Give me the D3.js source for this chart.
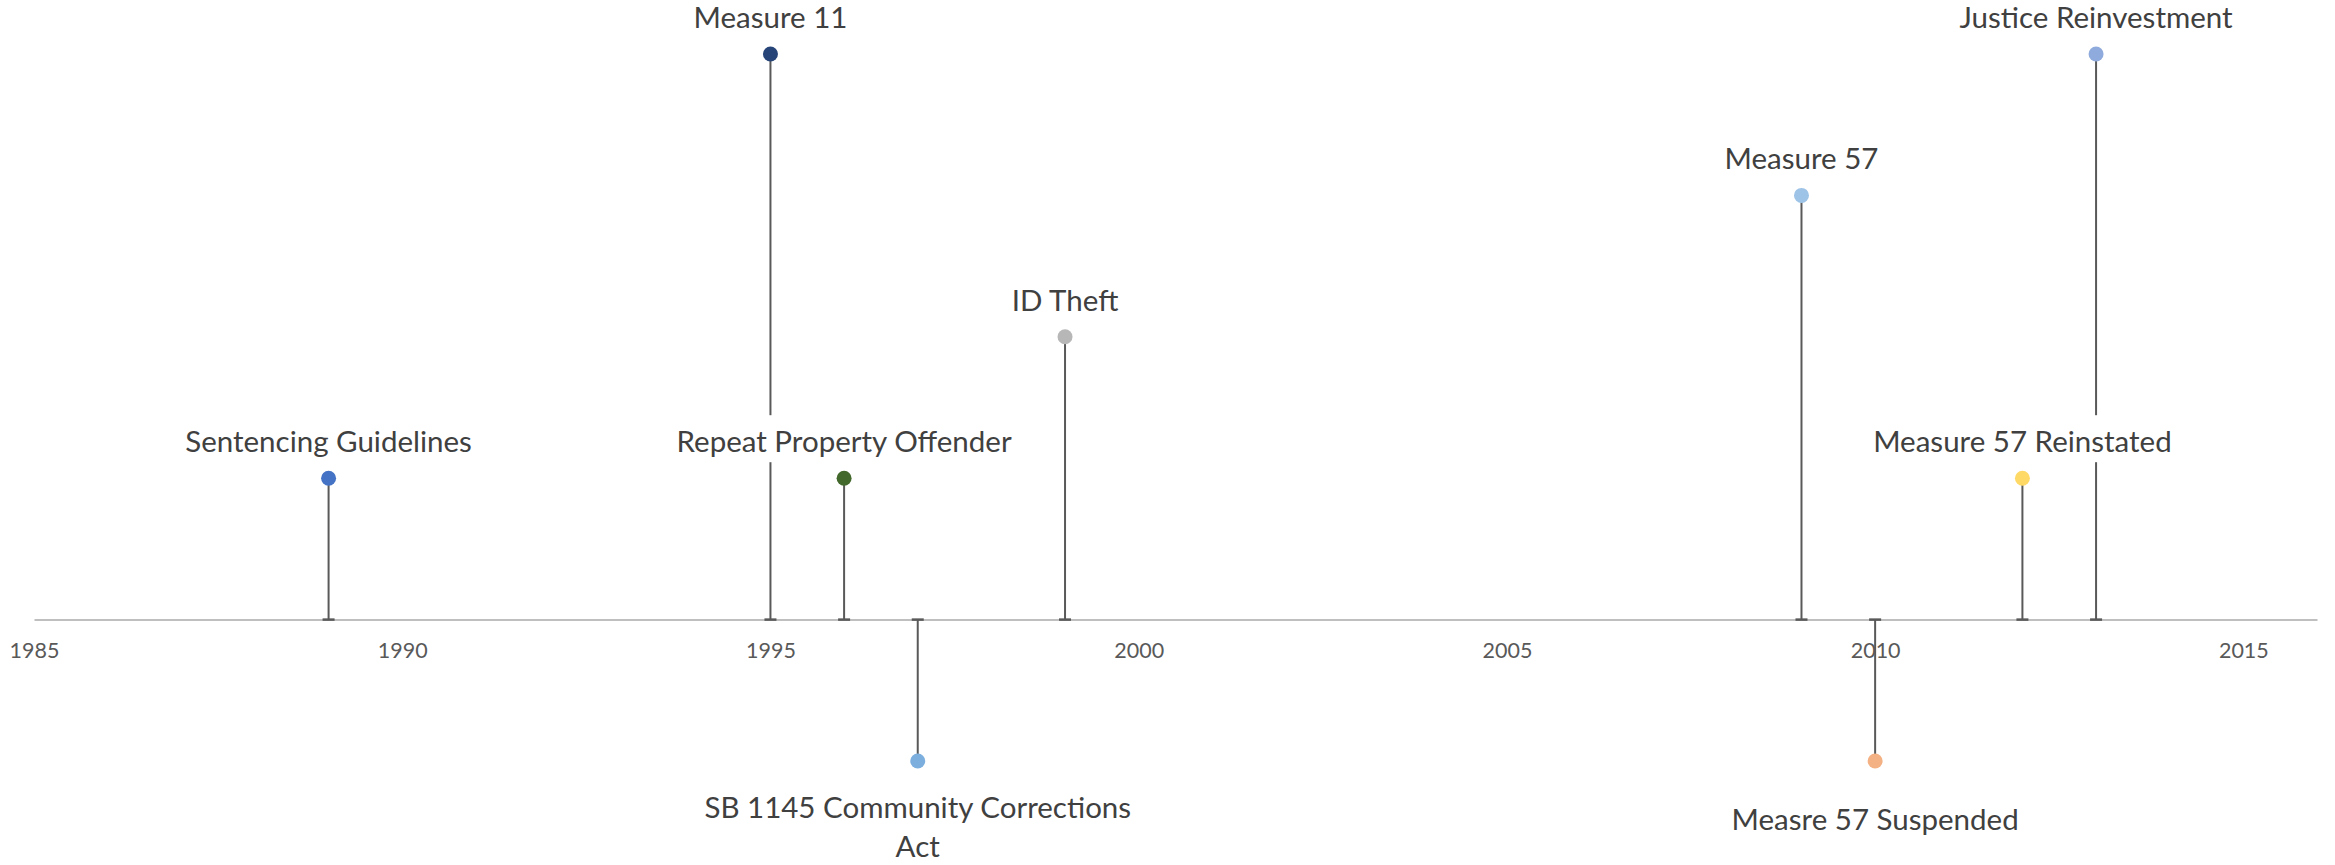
<!DOCTYPE html>
<html>
<head>
<meta charset="utf-8">
<script src="https://cdn.jsdelivr.net/npm/d3@7"></script>
<style>
  body { margin: 0; background: #fff; }
  svg { display: block; font-family: Lato, 'Open Sans', sans-serif; }
</style>
</head>
<body>
<div id="timeline"></div>
<script>
// Milestones: year, height level (negative = below the axis), label
const years = [1989, 1995, 1996, 1997, 1999, 2009, 2010, 2012, 2013];
const levels = [1, 4, 1, -1, 2, 3, -1, 1, 4];
const labels = [
  ['Sentencing Guidelines'],
  ['Measure 11'],
  ['Repeat Property Offender'],
  ['SB 1145 Community Corrections', 'Act'],
  ['ID Theft'],
  ['Measure 57'],
  ['Measre 57 Suspended'],
  ['Measure 57 Reinstated'],
  ['Justice Reinvestment']
];
const tickYears = [1985, 1990, 1995, 2000, 2005, 2010, 2015];

const dotColors = ['#4472c4', '#264478', '#43682b', '#7cafdd', '#b7b7b7',
                   '#9dc3e6', '#f4b183', '#ffd966', '#8faadc'];

const width = 2335, height = 865;

let svg = d3.select('#timeline')
            .append('svg')
            .attr('width', width)
            .attr('height', height);

let x = d3.scaleLinear()
          .domain([1985, 2016])
          .range([34, 2317]);

let y = d3.scaleLinear()
          .domain([-1, 4])
          .range([761, 54]);

let data = years.map((yr, i) => ({
  year: yr,
  level: levels[i],
  lines: labels[i],
  color: dotColors[i]
}));

// Axis along zero
let axis = svg.append('g')
              .attr('transform', `translate(0, ${y(0)})`)
              .call(d3.axisBottom(x)
                      .tickValues(tickYears)
                      .tickFormat(d3.format('d'))
                      .tickSize(0)
                      .tickSizeOuter(0)
                      .tickPadding(23));

axis.select('.domain')
    .attr('stroke', '#bfbfbf')
    .attr('stroke-width', 2);

axis.selectAll('text')
    .attr('fill', '#595959')
    .style('font-size', '21.5px')
    .style('font-family', 'Lato, sans-serif');

// Stems (drop lines to the axis with a cap)
let stems = svg.append('g');

stems.selectAll('line.stem')
     .data(data)
     .enter()
     .append('line')
     .attr('class', 'stem')
     .attr('x1', d => x(d.year))
     .attr('x2', d => x(d.year))
     .attr('y1', d => y(d.level))
     .attr('y2', y(0))
     .attr('stroke', '#595959')
     .attr('stroke-width', 2);

stems.selectAll('line.cap')
     .data(data)
     .enter()
     .append('line')
     .attr('class', 'cap')
     .attr('x1', d => x(d.year) - 6)
     .attr('x2', d => x(d.year) + 6)
     .attr('y1', y(0))
     .attr('y2', y(0))
     .attr('stroke', '#595959')
     .attr('stroke-width', 2.5);

// Markers
svg.append('g')
   .selectAll('circle')
   .data(data)
   .enter()
   .append('circle')
   .attr('cx', d => x(d.year))
   .attr('cy', d => y(d.level))
   .attr('r', 7.5)
   .attr('fill', d => d.color);

// Labels with white box behind them
let labelGroups = svg.append('g')
                     .selectAll('g')
                     .data(data)
                     .enter()
                     .append('g')
                     .attr('transform', d => {
                       let cy = y(d.level);
                       let base;
                       if (d.level > 0) {
                         base = cy - 26;
                       } else {
                         base = d.lines.length > 1 ? cy + 57 : cy + 69;
                       }
                       return `translate(${x(d.year)}, ${base})`;
                     });

labelGroups.append('rect')
           .attr('fill', '#fff');

labelGroups.append('text')
           .attr('text-anchor', 'middle')
           .attr('fill', '#404040')
           .style('font-size', '29.5px')
           .selectAll('tspan')
           .data(d => d.lines)
           .enter()
           .append('tspan')
           .attr('x', 0)
           .attr('y', (d, i) => i * 39)
           .text(d => d);

labelGroups.each(function() {
  let g = d3.select(this);
  let bb = g.select('text').node().getBBox();
  g.select('rect')
   .attr('x', bb.x - 8)
   .attr('y', bb.y - 8)
   .attr('width', bb.width + 16)
   .attr('height', bb.height + 12);
});
</script>
</body>
</html>
